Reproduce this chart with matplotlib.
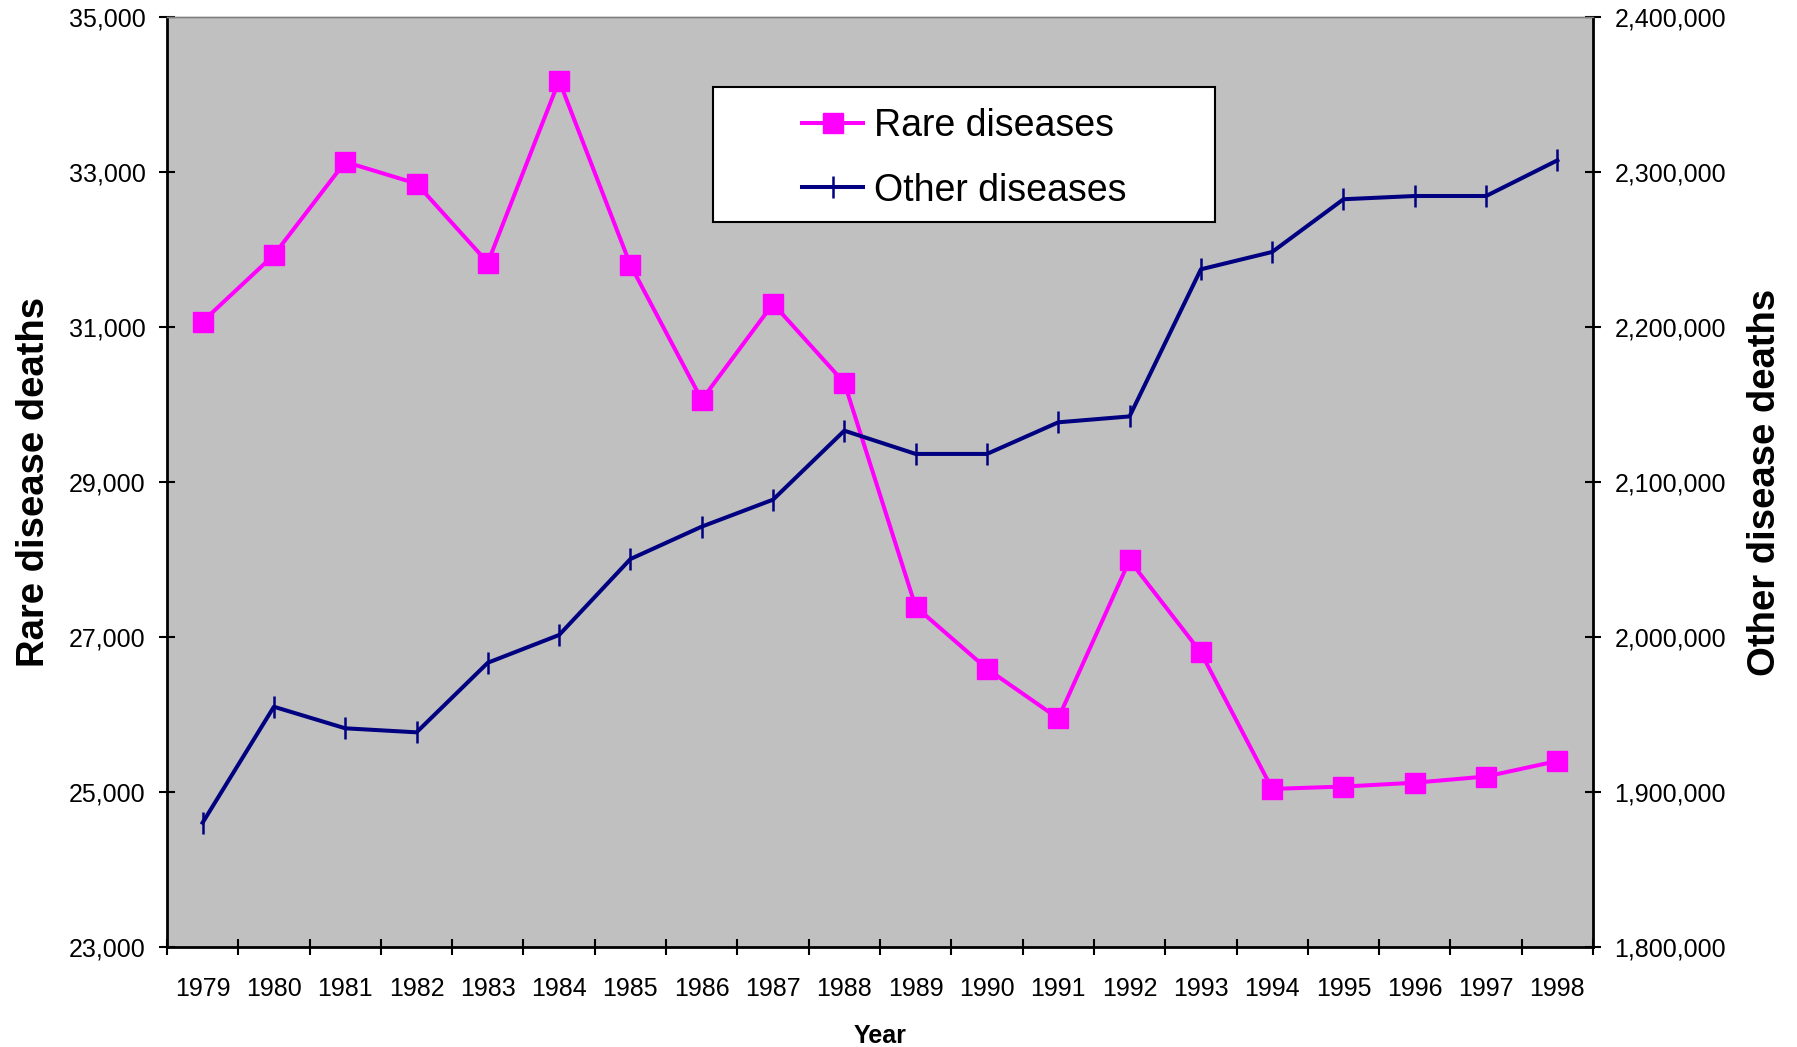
import matplotlib
matplotlib.use("Agg")
import matplotlib.pyplot as plt
from matplotlib.patches import Rectangle
from matplotlib.ticker import FixedLocator, StrMethodFormatter

plt.rcParams["font.family"] = ["Liberation Sans", "DejaVu Sans"]

years = ["1979", "1980", "1981", "1982", "1983", "1984", "1985", "1986", "1987", "1988",
         "1989", "1990", "1991", "1992", "1993", "1994", "1995", "1996", "1997", "1998"]
rare = [31070, 31930, 33130, 32850, 31830, 34180, 31800, 30060, 31300, 30280,
        27390, 26590, 25950, 27990, 26800, 25040, 25070, 25120, 25200, 25400]
other = [1880200, 1955000, 1941100, 1938500, 1983400, 2001300, 2050300, 2071200, 2088600, 2133100,
         2118100, 2118100, 2138500, 2142300, 2237200, 2248400, 2282400, 2284500, 2284500, 2307500]

rare_ticks = [23000, 25000, 27000, 29000, 31000, 33000, 35000]
other_ticks = [1800000, 1900000, 2000000, 2100000, 2200000, 2300000, 2400000]

fig = plt.figure(figsize=(17.97, 10.47), dpi=100)
ax = fig.add_axes([0.0929, 0.0955, 0.7936, 0.8883])
ax2 = ax.twinx()

ax.set_facecolor("#c0c0c0")
ax2.patch.set_visible(False)

x = list(range(len(years)))
l1, = ax.plot(x, rare, color="#ff00ff", lw=2.9, marker="s", ms=15,
              mec="#ff00ff", mfc="#ff00ff", label="Rare diseases")
l2, = ax2.plot(x, other, color="#000080", lw=2.9, marker="|", ms=15.5,
               mew=1.8, label="Other diseases")

ax.set_xlim(-0.5, len(years) - 0.5)
ax.set_ylim(23000, 35000)
ax2.set_ylim(1800000, 2400000)

# category labels centred, tick marks on the boundaries
ax.set_xticks(x)
ax.set_xticklabels(years)
ax.xaxis.set_minor_locator(FixedLocator([i - 0.5 for i in range(len(years) + 1)]))
ax.tick_params(axis="x", which="major", length=0, pad=21.5, labelsize=18)
ax.tick_params(axis="x", which="minor", direction="inout", length=12, width=1.5)

ax.set_yticks(rare_ticks)
ax.yaxis.set_major_formatter(StrMethodFormatter("{x:,.0f}"))
ax.tick_params(axis="y", direction="inout", length=12, width=1.5, pad=9.5, labelsize=18)

ax2.set_yticks(other_ticks)
ax2.yaxis.set_major_formatter(StrMethodFormatter("{x:,.0f}"))
ax2.tick_params(axis="y", direction="inout", length=12, width=1.5, pad=9.5, labelsize=18)

for a in (ax, ax2):
    a.spines["top"].set_color("#808080")
    a.spines["top"].set_linewidth(1)
ax.spines["left"].set_linewidth(2)
ax.spines["bottom"].set_linewidth(2)
ax.spines["right"].set_visible(False)
ax2.spines["left"].set_visible(False)
ax2.spines["bottom"].set_visible(False)
ax2.spines["right"].set_linewidth(2)

ax.set_xlabel("Year", fontsize=18, fontweight="bold", labelpad=17)
ax.set_ylabel("Rare disease deaths", fontsize=27.5, fontweight="bold", labelpad=12)
ax2.set_ylabel("Other disease deaths", fontsize=27.5, fontweight="bold", labelpad=15)

# legend box
ax2.add_patch(Rectangle((0.383, 0.780), 0.352, 0.145, transform=ax2.transAxes,
                        facecolor="white", edgecolor="black", lw=1.5, zorder=5))
leg = ax2.legend(handles=[l1, l2], loc="center", bbox_to_anchor=(0.559, 0.848),
                 frameon=False, fontsize=27, handlelength=1.63, handletextpad=0.27,
                 labelspacing=0.76, borderpad=0)
leg.set_zorder(6)

fig.savefig("out.png", dpi=100)
